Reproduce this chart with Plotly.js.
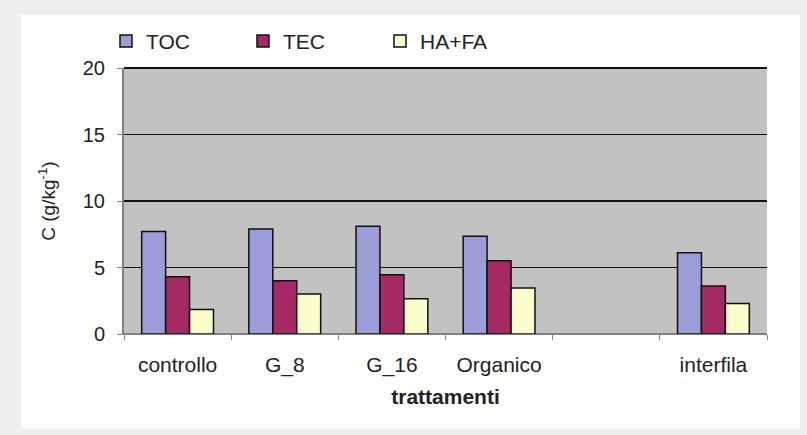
<!DOCTYPE html>
<html><head><meta charset="utf-8">
<script src="https://cdn.plot.ly/plotly-3.0.1.min.js"></script>
<style>html,body{margin:0;padding:0;background:#efefef;}#chart{width:807px;height:435px;}</style>
</head><body><div id="chart"></div>
<script>
const categories = ["controllo", "G_8", "G_16", "Organico", " ", "interfila"];
const toc = [7.7, 7.9, 8.1, 7.35, null, 6.1];
const tec = [4.3, 4.0, 4.45, 5.5, null, 3.6];
const hafa = [1.85, 3.0, 2.65, 3.45, null, 2.3];
const seriesNames = ["TOC", "TEC", "HA+FA"];
const yTicks = [0, 5, 10, 15, 20];

const colors = ["#9c9cd8", "#a32a62", "#fcfccc"];
const data = [toc, tec, hafa].map((v, i) => ({
  type: "bar", x: categories, y: v, name: seriesNames[i],
  marker: {color: colors[i], line: {color: "#111111", width: 1.5}}
}));

const layout = {
  width: 807, height: 435,
  margin: {l: 124, r: 40, t: 68, b: 101},
  paper_bgcolor: "#efefef",
  plot_bgcolor: "#c2c2c2",
  font: {family: "Liberation Sans, Arial, sans-serif", size: 20, color: "#222"},
  barmode: "group", bargap: 0.33, bargroupgap: 0,
  showlegend: true,
  legend: {orientation: "h", x: -0.028, xanchor: "left", y: 1.10, yanchor: "middle",
           font: {size: 21}, entrywidth: 92, entrywidthmode: "pixels", bgcolor: "rgba(0,0,0,0)",
           traceorder: "normal", itemwidth: 30},
  xaxis: {type: "category", categoryorder: "array", categoryarray: categories,
          showline: true, linecolor: "#808080", linewidth: 1, ticks: "outside", tickson: "boundaries",
          ticklen: 5, tickcolor: "#808080", ticklabelstandoff: 12, showgrid: false,
          tickfont: {size: 21},
          title: {text: "<b>trattamenti</b>", font: {size: 21}, standoff: 13}},
  yaxis: {range: [0, 20], tickvals: yTicks, ticktext: yTicks.map(String),
          showline: true, linecolor: "#808080", linewidth: 2, ticks: "outside", ticklen: 5,
          tickcolor: "#808080", ticklabelstandoff: 8,
          showgrid: true, gridcolor: "#111111", gridwidth: 1.5,
          zeroline: true, zerolinecolor: "#808080", zerolinewidth: 1.5,
          tickfont: {size: 20},
          title: {text: "C (g/kg<sup>-1</sup>)", font: {size: 19}, standoff: 22}},
  shapes: [
    {type: "rect", xref: "paper", yref: "paper", x0: -0.160, x1: 1.0513, y0: -0.355, y1: 1.2,
     fillcolor: "#ffffff", line: {width: 0}, layer: "below"},
    {type: "rect", xref: "paper", yref: "paper", x0: 0, x1: 1, y0: 0, y1: 1,
     fillcolor: "#c2c2c2", line: {width: 0}, layer: "below"},
    {type: "line", xref: "paper", yref: "paper", x0: 0, x1: 1, y0: 1, y1: 1,
     line: {color: "#111111", width: 2}}
  ]
};
Plotly.newPlot("chart", data, layout, {displayModeBar: false, staticPlot: true});
</script></body></html>
